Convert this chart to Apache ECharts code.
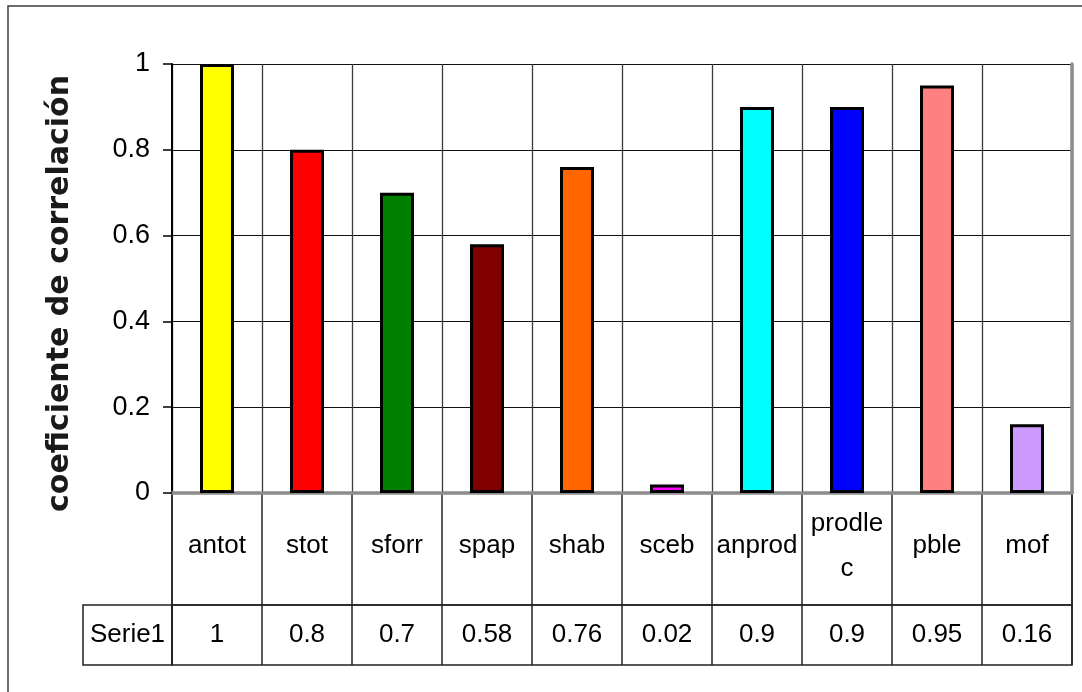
<!DOCTYPE html>
<html>
<head>
<meta charset="utf-8">
<script src="https://cdn.jsdelivr.net/npm/echarts@6/dist/echarts.min.js"></script>
<style>
  html, body { margin: 0; padding: 0; background: #fff; }
  #chart { width: 1082px; height: 692px; }
</style>
</head>
<body>
<div id="chart"></div>
<script>
// Correlation coefficient per variable, drawn as bars with a data table underneath
const categories = ['antot', 'stot', 'sforr', 'spap', 'shab', 'sceb', 'anprod', 'prodlec', 'pble', 'mof'];
const values = [1, 0.8, 0.7, 0.58, 0.76, 0.02, 0.9, 0.9, 0.95, 0.16];
const seriesName = 'Serie1';
const axisTitle = 'coeficiente de correlación';
const barColors = ['#FFFF00', '#FF0000', '#008000', '#800000', '#FF6600',
                   '#FF00FF', '#00FFFF', '#0000FF', '#FF8080', '#CC99FF'];

const sans = '"Liberation Sans", Arial, sans-serif';

// long names wrap inside the table cell, like a spreadsheet
function wrapLabel(name) {
  const max = 6;
  if (name.length <= max) return name;
  const parts = [];
  for (let i = 0; i < name.length; i += max) parts.push(name.slice(i, i + max));
  return parts.join('\n');
}

const tableLine = { color: '#222', width: 1.5 };

const chart = echarts.init(document.getElementById('chart'), null, { renderer: 'canvas' });

const option = {
  animation: false,
  backgroundColor: '#fff',
  graphic: [{
    type: 'rect',
    silent: true,
    z: -1,
    shape: { x: 8, y: 6, width: 1200, height: 800 },
    style: { fill: 'none', stroke: '#3c3c3c', lineWidth: 1.5 }
  }],
  grid: [
    { left: 172, top: 64, width: 900, height: 429 },
    { left: 172, top: 493, width: 900, height: 112, show: true, borderColor: '#222', borderWidth: 1.5 },
    { left: 172, top: 605, width: 900, height: 60, show: true, borderColor: '#222', borderWidth: 1.5 },
    { left: 83, top: 605, width: 89, height: 60, show: true, borderColor: '#222', borderWidth: 1.5 }
  ],
  xAxis: [
    {
      gridIndex: 0, type: 'category', data: categories, position: 'bottom', z: 3,
      axisLine: { lineStyle: { color: '#333', width: 2 } },
      axisTick: { show: false },
      splitLine: { show: true, interval: 0, lineStyle: { color: '#3a3a3a', width: 1.3 } },
      axisLabel: {
        interval: 0, margin: 53, verticalAlign: 'middle',
        fontFamily: sans, fontSize: 26, lineHeight: 45, color: '#000',
        formatter: wrapLabel
      }
    },
    {
      gridIndex: 0, type: 'category', data: categories, position: 'top', z: 3,
      axisLine: { lineStyle: { color: '#8c8c8c', width: 3.5 } },
      axisTick: { show: false }, axisLabel: { show: false }, splitLine: { show: false }
    },
    {
      gridIndex: 1, type: 'category', data: categories,
      axisLine: { show: false }, axisTick: { show: false }, axisLabel: { show: false },
      splitLine: { show: true, interval: 0, lineStyle: tableLine }
    },
    {
      gridIndex: 2, type: 'category', data: categories, position: 'bottom',
      axisLine: { show: false }, axisTick: { show: false },
      splitLine: { show: true, interval: 0, lineStyle: tableLine },
      axisLabel: {
        inside: true, interval: 0, margin: 30, verticalAlign: 'middle',
        fontFamily: sans, fontSize: 26, color: '#000',
        formatter: (v, i) => String(values[i])
      }
    },
    {
      gridIndex: 3, type: 'category', data: [seriesName], position: 'bottom',
      axisLine: { show: false }, axisTick: { show: false }, splitLine: { show: false },
      axisLabel: {
        inside: true, margin: 30, verticalAlign: 'middle',
        fontFamily: sans, fontSize: 26, color: '#000'
      }
    }
  ],
  yAxis: [
    {
      gridIndex: 0, type: 'value', min: 0, max: 1, interval: 0.2, z: 3,
      name: axisTitle, nameLocation: 'middle', nameGap: 112,
      nameTextStyle: {
        fontFamily: '"DejaVu Sans", sans-serif', fontWeight: 'bold', fontSize: 30,
        color: '#1a1a1a', verticalAlign: 'middle', padding: [0, 30, 0, 0]
      },
      axisLine: { show: true, lineStyle: { color: '#000', width: 2 } },
      axisTick: { show: true, length: 9, lineStyle: { color: '#000', width: 1.5 } },
      axisLabel: { margin: 22, fontFamily: sans, fontSize: 27, color: '#000' },
      splitLine: { show: true, lineStyle: { color: '#111', width: 1.2 } }
    },
    {
      gridIndex: 0, type: 'value', min: 0, max: 1, position: 'right', z: 3,
      axisLine: { show: true, lineStyle: { color: '#8c8c8c', width: 3.5 } },
      axisTick: { show: false }, axisLabel: { show: false }, splitLine: { show: false }
    },
    { gridIndex: 1, type: 'value', show: false, splitLine: { show: false } },
    { gridIndex: 2, type: 'value', show: false, splitLine: { show: false } },
    { gridIndex: 3, type: 'value', show: false, splitLine: { show: false } }
  ],
  series: [{
    type: 'bar',
    name: seriesName,
    xAxisIndex: 0,
    yAxisIndex: 0,
    data: values,
    barWidth: 34,
    z: 5,
    itemStyle: {
      color: (p) => barColors[p.dataIndex],
      borderColor: '#000',
      borderWidth: 3
    }
  }]
};

chart.setOption(option);
</script>
</body>
</html>
